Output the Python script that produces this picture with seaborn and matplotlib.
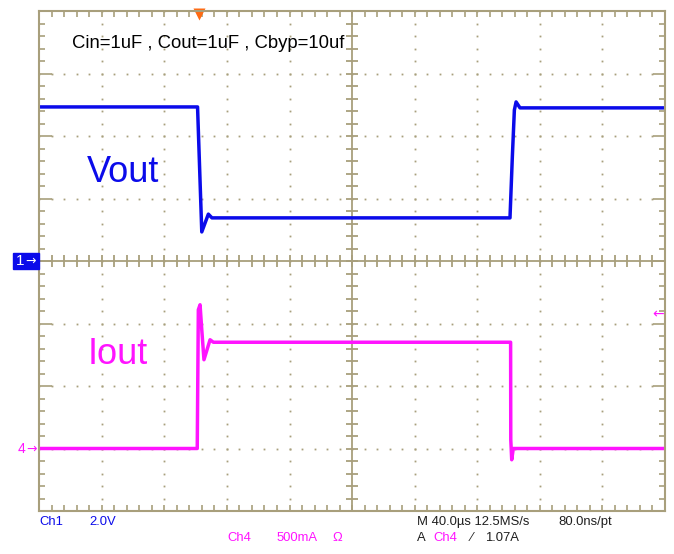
import numpy as np
import pandas as pd
import matplotlib.pyplot as plt
from matplotlib.patches import Rectangle
import seaborn as sns

# scope settings
time_per_div = 40.0      # us / div
ch1_per_div = 2.0        # V / div
ch4_per_div = 0.5        # A / div
ch4_offset_div = -3.0
trigger_time = 102.0     # us from left edge
trigger_level = 1.07     # A

# Vout (Ch1)
vout_t = [0.0, 101.2, 103.9, 108.1, 110.4, 301.0, 302.5, 303.8, 304.9, 307.4, 400.0]
vout_v = [4.93, 4.93, 0.93, 1.50, 1.38, 1.38, 3.33, 4.83, 5.09, 4.90, 4.90]

# Iout (Ch4)
iout_t = [0.0, 101.0, 101.7, 102.8, 103.9, 105.3, 109.2, 111.3, 301.4, 301.5, 302.1, 303.1, 400.0]
iout_a = [0.0, 0.0, 1.11, 1.15, 0.95, 0.71, 0.87, 0.85, 0.85, 0.07, -0.09, 0.0, 0.0]

blue = "#0B0BEA"
magenta = "#FF14FF"
grat = "#A89F7C"

sns.set_theme(style="white")
plt.rcParams["font.family"] = ["Liberation Sans", "DejaVu Sans"]

vout = pd.DataFrame({"t": vout_t, "div": np.array(vout_v) / ch1_per_div})
iout = pd.DataFrame({"t": iout_t, "div": np.array(iout_a) / ch4_per_div + ch4_offset_div})

fig = plt.figure(figsize=(6.74, 5.54), dpi=100)
ax = fig.add_axes([39.3 / 674, 43 / 554, 625.5 / 674, 500 / 554])
ax.set_facecolor("white")
ax.set_xlim(0, 10 * time_per_div)
ax.set_ylim(-4, 4)

# graticule: dotted division lines
minor_x = np.arange(0, 10.01, 0.2) * time_per_div
minor_y = np.arange(-4, 4.01, 0.2)
for i in range(1, 10):
    if i == 5:
        continue
    ax.plot(np.full_like(minor_y, i * time_per_div), minor_y, "s", ms=1.3, color=grat, mec="none")
for j in range(-3, 4):
    if j == 0:
        continue
    ax.plot(minor_x, np.full_like(minor_x, j), "s", ms=1.3, color=grat, mec="none")

# centre cross with ticks
ax.axhline(0, color=grat, lw=1.3)
ax.axvline(5 * time_per_div, color=grat, lw=1.3)
ax.vlines(minor_x, -0.09, 0.09, color=grat, lw=1.3)
ax.hlines(minor_y, 5 * time_per_div - 0.09 * time_per_div, 5 * time_per_div + 0.09 * time_per_div,
          color=grat, lw=1.3)

# border ticks
ax.set_xticks(np.arange(0, 10.01, 1) * time_per_div)
ax.set_xticks(minor_x, minor=True)
ax.set_yticks(np.arange(-4, 4.01, 1))
ax.set_yticks(minor_y, minor=True)
ax.tick_params(axis="x", which="both", direction="in", top=True, bottom=True,
               length=4, width=1.2, color=grat, labelbottom=False)
ax.tick_params(axis="y", which="major", direction="in", left=True, right=True,
               length=9, width=1.2, color=grat, labelleft=False)
ax.tick_params(axis="y", which="minor", direction="in", left=True, right=True,
               length=4, width=1.2, color=grat)
for s in ax.spines.values():
    s.set_color(grat)
    s.set_linewidth(1.5)

# traces
sns.lineplot(data=vout, x="t", y="div", ax=ax, color=blue, lw=2.5, sort=False, estimator=None)
sns.lineplot(data=iout, x="t", y="div", ax=ax, color=magenta, lw=2.5, sort=False, estimator=None)
ax.set_xlabel("")
ax.set_ylabel("")

# labels on screen
ax.text(0.053, 0.935, "Cin=1uF , Cout=1uF , Cbyp=10uf", transform=ax.transAxes,
        fontsize=13.3, color="black", va="center", ha="left")
ax.text(0.076, 0.676, "Vout", transform=ax.transAxes, fontsize=26, color=blue, va="center")
ax.text(0.077, 0.313, "Iout", transform=ax.transAxes, fontsize=26, color=magenta, va="center")

# trigger position and level markers
ax.plot([trigger_time], [3.95], marker="v", ms=8, color="#FF6A13", mec="none", clip_on=False)
ax.text(0.998, (trigger_level / ch4_per_div + ch4_offset_div + 4) / 8, "←",
        transform=ax.transAxes, color=magenta, fontsize=10, ha="right", va="center",
        family="DejaVu Sans")

# channel markers on the left
fig.patches.append(Rectangle((13 / 674, 1 - 269 / 554), 26 / 674, 16 / 554,
                             transform=fig.transFigure, color=blue, zorder=5))
fig.text(16 / 674, 1 - 261 / 554, "1", color="white", fontsize=11, va="center", zorder=6)
fig.text(25 / 674, 1 - 261 / 554, "→", color="white", fontsize=9, va="center", zorder=6,
         family="DejaVu Sans")
fig.text(18 / 674, 1 - 449 / 554, "4", color=magenta, fontsize=10, va="center")
fig.text(26 / 674, 1 - 449 / 554, "→", color=magenta, fontsize=9, va="center",
         family="DejaVu Sans")

# readout at the bottom
row1 = 1 - 522 / 554
row2 = 1 - 538 / 554
dark = "#1E1E1E"
fs = 9.4
fig.text(39 / 674, row1, "Ch1", color=blue, fontsize=fs, va="center")
fig.text(89 / 674, row1, "2.0V", color=blue, fontsize=fs, va="center")
fig.text(227 / 674, row2, "Ch4", color=magenta, fontsize=fs, va="center")
fig.text(277 / 674, row2, "500mA", color=magenta, fontsize=fs, va="center")
fig.text(332 / 674, row2, "Ω", color=magenta, fontsize=fs, va="center")
fig.text(417 / 674, row1, "M 40.0µs 12.5MS/s", color=dark, fontsize=fs, va="center")
fig.text(558 / 674, row1, "80.0ns/pt", color=dark, fontsize=fs, va="center")
fig.text(417 / 674, row2, "A", color=dark, fontsize=fs, va="center")
fig.text(433 / 674, row2, "Ch4", color=magenta, fontsize=fs, va="center")
fig.text(471 / 674, row2, "⁄", color=dark, fontsize=fs, va="center")
fig.text(485 / 674, row2, "1.07A", color=dark, fontsize=fs, va="center")

fig.savefig("out.png", dpi=100, facecolor="white")
